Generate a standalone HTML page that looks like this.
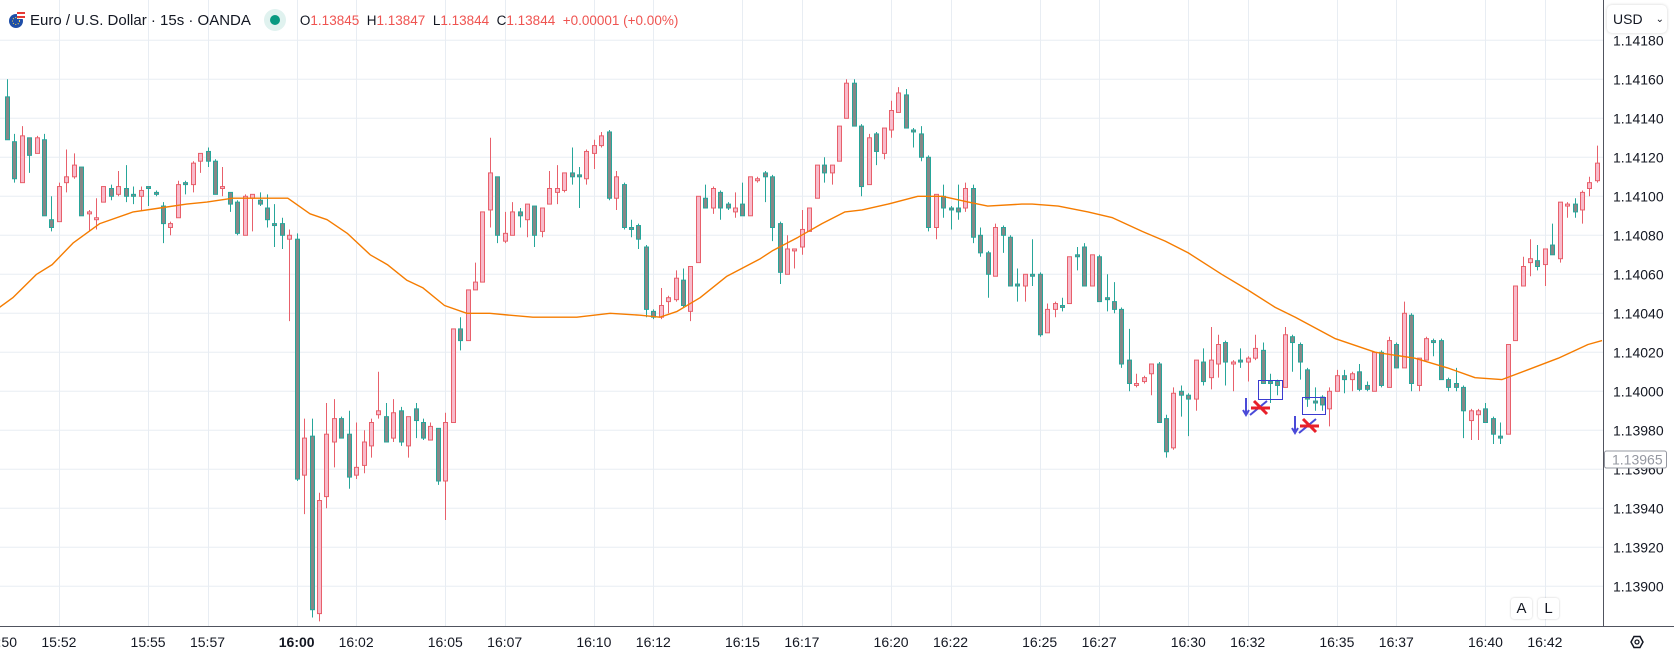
<!DOCTYPE html>
<html><head><meta charset="utf-8"><title>EURUSD 15s</title>
<style>
html,body{margin:0;padding:0;background:#fff;width:1674px;height:658px;overflow:hidden;font-family:"Liberation Sans",sans-serif;}
#wrap{position:relative;width:1674px;height:658px;}
svg{position:absolute;left:0;top:0;}
#hdr{position:absolute;left:8px;top:8px;height:24px;display:flex;align-items:center;font-size:15px;color:#131722;white-space:nowrap;}
#hdr .vals{font-size:13.5px;color:#131722;margin-left:14px;}
#hdr .vals span.r{color:#ef5350;}
#usd{position:absolute;left:1607px;top:5px;width:60px;height:28px;border-radius:5px;background:#fff;box-shadow:0 0 3px rgba(0,0,0,0.18);font-size:14px;color:#131722;display:flex;align-items:center;padding-left:6px;box-sizing:border-box;}
.btn{position:absolute;top:598px;width:21px;height:21px;border-radius:3px;box-shadow:0 0 2px rgba(0,0,0,0.2);background:#fff;font-size:15px;text-align:center;line-height:21px;color:#131722;}
</style></head><body>
<div id="wrap">
<svg id="chart" width="1674" height="658"></svg>
<div id="hdr">
 <svg width="18" height="18" style="position:static"><circle cx="8" cy="10" r="7" fill="#1e4ea8"/><rect x="9" y="1" width="8" height="7" fill="#fff"/><rect x="9" y="1" width="8" height="2" fill="#e53935"/><rect x="9" y="5" width="8" height="2" fill="#e53935"/><circle cx="8" cy="10" r="3.5" fill="none" stroke="#f9d648" stroke-dasharray="1 1.6"/></svg>
 <span style="margin-left:4px">Euro / U.S. Dollar · 15s · OANDA</span>
 <span style="display:inline-block;width:22px;height:22px;border-radius:11px;background:#e0f2ef;margin-left:13px;position:relative"><span style="position:absolute;left:6px;top:6px;width:10px;height:10px;border-radius:5px;background:#089981"></span></span>
 <span class="vals">O<span class="r">1.13845</span>&nbsp; H<span class="r">1.13847</span>&nbsp; L<span class="r">1.13844</span>&nbsp; C<span class="r">1.13844</span>&nbsp; <span class="r">+0.00001 (+0.00%)</span></span>
</div>
<div id="usd">USD<span style="margin-left:13px;font-size:10px">&#8964;</span></div>
<div class="btn" style="left:1511px">A</div>
<div class="btn" style="left:1538px">L</div>
</div>
<script>
const opens=[1.14151,1.14128,1.14107,1.14130,1.14122,1.14129,1.14088,1.14087,1.14107,1.14110,
1.14115,1.14091,1.14088,1.14097,1.14104,1.14101,1.14104,1.14101,1.14100,1.14105,
1.14102,1.14095,1.14084,1.14089,1.14107,1.14106,1.14118,1.14123,1.14118,1.14104,
1.14102,1.14097,1.14080,1.14099,1.14098,1.14094,1.14086,1.14086,1.14078,1.14078,
1.13957,1.13977,1.13886,1.13946,1.13974,1.13986,1.13978,1.13957,1.13962,1.13972,
1.13988,1.13987,1.13976,1.13990,1.13972,1.13991,1.13984,1.13975,1.13981,1.13954,
1.13984,1.14032,1.14026,1.14052,1.14056,1.14093,1.14110,1.14077,1.14080,1.14092,
1.14088,1.14095,1.14082,1.14096,1.14102,1.14103,1.14112,1.14111,1.14109,1.14122,
1.14126,1.14133,1.14099,1.14106,1.14084,1.14085,1.14074,1.14041,1.14038,1.14046,
1.14047,1.14057,1.14041,1.14066,1.14099,1.14094,1.14102,1.14096,1.14092,1.14096,
1.14090,1.14108,1.14112,1.14110,1.14086,1.14060,1.14072,1.14074,1.14082,1.14099,
1.14116,1.14112,1.14118,1.14140,1.14158,1.14136,1.14106,1.14132,1.14122,1.14134,
1.14143,1.14152,1.14134,1.14132,1.14120,1.14084,1.14100,1.14094,1.14094,1.14094,
1.14104,1.14080,1.14071,1.14059,1.14084,1.14079,1.14055,1.14054,1.14060,1.14060,
1.14030,1.14042,1.14044,1.14045,1.14070,1.14074,1.14054,1.14069,1.14048,1.14046,
1.14042,1.14016,1.14003,1.14005,1.14009,1.14014,1.13986,1.13971,1.14000,1.13998,
1.13996,1.14015,1.14007,1.14014,1.14025,1.14014,1.14016,1.14015,1.14017,1.14021,
1.14005,1.14005,1.14002,1.14028,1.14024,1.14011,1.13995,1.13997,1.13991,1.14000,
1.14008,1.14006,1.14010,1.14003,1.14000,1.14020,1.14002,1.14024,1.14012,1.14039,
1.14003,1.14016,1.14026,1.14026,1.14006,1.14004,1.14002,1.13985,1.13988,1.13991,
1.13986,1.13977,1.13978,1.14026,1.14054,1.14066,1.14067,1.14065,1.14075,1.14068,
1.14095,1.14096,1.14093,1.14104,1.14108];
const highs=[1.14160,1.14132,1.14136,1.14130,1.14131,1.14132,1.14100,1.14107,1.14124,1.14122,
1.14115,1.14093,1.14099,1.14105,1.14106,1.14113,1.14116,1.14105,1.14105,1.14105,
1.14103,1.14097,1.14087,1.14108,1.14108,1.14118,1.14122,1.14125,1.14119,1.14115,
1.14102,1.14098,1.14101,1.14101,1.14102,1.14101,1.14096,1.14089,1.14083,1.14081,
1.13986,1.13986,1.13948,1.13994,1.13996,1.13987,1.13990,1.13984,1.13980,1.13986,
1.14010,1.13994,1.13996,1.13992,1.13987,1.13994,1.13986,1.13984,1.13981,1.13989,
1.14032,1.14038,1.14052,1.14066,1.14092,1.14130,1.14110,1.14092,1.14097,1.14094,
1.14096,1.14095,1.14094,1.14113,1.14116,1.14112,1.14125,1.14115,1.14124,1.14129,
1.14133,1.14134,1.14113,1.14107,1.14088,1.14086,1.14075,1.14042,1.14053,1.14049,
1.14062,1.14063,1.14064,1.14100,1.14106,1.14105,1.14103,1.14097,1.14102,1.14107,
1.14110,1.14110,1.14113,1.14111,1.14087,1.14080,1.14073,1.14093,1.14094,1.14116,
1.14120,1.14116,1.14136,1.14160,1.14160,1.14137,1.14132,1.14133,1.14135,1.14149,
1.14156,1.14155,1.14135,1.14136,1.14121,1.14101,1.14106,1.14095,1.14106,1.14107,
1.14106,1.14084,1.14072,1.14086,1.14085,1.14080,1.14063,1.14060,1.14078,1.14061,
1.14045,1.14046,1.14048,1.14069,1.14074,1.14076,1.14070,1.14070,1.14060,1.14056,
1.14043,1.14032,1.14009,1.14008,1.14014,1.14015,1.13988,1.14002,1.14003,1.13999,
1.14016,1.14022,1.14033,1.14029,1.14026,1.14016,1.14022,1.14018,1.14029,1.14025,
1.14009,1.14006,1.14033,1.14029,1.14025,1.14012,1.14002,1.13998,1.14002,1.14011,
1.14011,1.14010,1.14014,1.14005,1.14020,1.14021,1.14028,1.14025,1.14046,1.14040,
1.14017,1.14028,1.14027,1.14027,1.14007,1.14012,1.14003,1.13991,1.13991,1.13994,
1.13987,1.13984,1.14024,1.14054,1.14069,1.14078,1.14075,1.14073,1.14086,1.14097,
1.14097,1.14099,1.14103,1.14110,1.14126];
const lows=[1.14129,1.14107,1.14107,1.14112,1.14122,1.14090,1.14082,1.14087,1.14102,1.14109,
1.14090,1.14082,1.14083,1.14097,1.14098,1.14100,1.14097,1.14096,1.14093,1.14095,
1.14100,1.14076,1.14080,1.14089,1.14101,1.14102,1.14112,1.14115,1.14101,1.14100,
1.14092,1.14080,1.14080,1.14082,1.14095,1.14084,1.14074,1.14073,1.14036,1.13954,
1.13937,1.13884,1.13882,1.13940,1.13961,1.13976,1.13950,1.13955,1.13958,1.13966,
1.13986,1.13974,1.13974,1.13972,1.13966,1.13976,1.13975,1.13975,1.13952,1.13934,
1.13984,1.14021,1.14026,1.14052,1.14056,1.14084,1.14076,1.14076,1.14080,1.14084,
1.14079,1.14074,1.14079,1.14096,1.14096,1.14102,1.14106,1.14094,1.14106,1.14114,
1.14125,1.14098,1.14093,1.14083,1.14079,1.14073,1.14038,1.14037,1.14037,1.14040,
1.14046,1.14043,1.14036,1.14066,1.14094,1.14091,1.14088,1.14093,1.14089,1.14090,
1.14090,1.14107,1.14097,1.14077,1.14055,1.14060,1.14063,1.14070,1.14082,1.14099,
1.14107,1.14106,1.14118,1.14140,1.14136,1.14100,1.14106,1.14116,1.14119,1.14130,
1.14143,1.14135,1.14125,1.14118,1.14082,1.14078,1.14089,1.14083,1.14088,1.14092,
1.14076,1.14069,1.14048,1.14059,1.14071,1.14054,1.14046,1.14046,1.14054,1.14028,
1.14030,1.14038,1.14041,1.14045,1.14062,1.14054,1.14054,1.14046,1.14041,1.14040,
1.14012,1.14000,1.14002,1.14004,1.13998,1.13984,1.13966,1.13970,1.13987,1.13977,
1.13990,1.14003,1.14001,1.14007,1.14003,1.14000,1.14012,1.14005,1.14016,1.14004,
1.13994,1.13998,1.14002,1.14010,1.14006,1.13992,1.13990,1.13990,1.13982,1.14000,
1.13999,1.14000,1.14000,1.14000,1.14000,1.14002,1.14002,1.14012,1.14012,1.14000,
1.14000,1.14016,1.14018,1.14006,1.14000,1.14000,1.13976,1.13975,1.13975,1.13984,
1.13973,1.13973,1.13978,1.14026,1.14054,1.14059,1.14062,1.14054,1.14070,1.14066,
1.14089,1.14089,1.14086,1.14100,1.14107];
const closes=[1.14129,1.14109,1.14131,1.14121,1.14130,1.14090,1.14084,1.14105,1.14110,1.14116,
1.14090,1.14092,1.14089,1.14105,1.14100,1.14105,1.14100,1.14100,1.14103,1.14104,
1.14101,1.14086,1.14086,1.14106,1.14106,1.14117,1.14122,1.14118,1.14101,1.14105,
1.14096,1.14081,1.14100,1.14101,1.14096,1.14088,1.14085,1.14080,1.14080,1.13955,
1.13976,1.13888,1.13944,1.13978,1.13986,1.13976,1.13956,1.13961,1.13974,1.13984,
1.13990,1.13974,1.13989,1.13974,1.13987,1.13985,1.13976,1.13982,1.13954,1.13984,
1.14032,1.14026,1.14052,1.14056,1.14092,1.14112,1.14080,1.14081,1.14092,1.14090,
1.14096,1.14080,1.14094,1.14104,1.14104,1.14112,1.14110,1.14110,1.14123,1.14126,
1.14131,1.14099,1.14110,1.14084,1.14083,1.14078,1.14042,1.14038,1.14044,1.14048,
1.14058,1.14044,1.14064,1.14100,1.14094,1.14104,1.14094,1.14094,1.14094,1.14090,
1.14110,1.14109,1.14110,1.14084,1.14061,1.14073,1.14073,1.14083,1.14094,1.14116,
1.14112,1.14116,1.14136,1.14158,1.14136,1.14105,1.14130,1.14123,1.14135,1.14144,
1.14153,1.14135,1.14133,1.14120,1.14084,1.14101,1.14094,1.14093,1.14092,1.14104,
1.14079,1.14071,1.14060,1.14084,1.14080,1.14054,1.14054,1.14060,1.14059,1.14029,
1.14042,1.14045,1.14043,1.14069,1.14069,1.14054,1.14070,1.14046,1.14047,1.14042,
1.14014,1.14004,1.14004,1.14007,1.14014,1.13984,1.13969,1.13999,1.13998,1.13996,
1.14016,1.14005,1.14016,1.14024,1.14015,1.14015,1.14015,1.14017,1.14022,1.14004,
1.14004,1.14003,1.14029,1.14025,1.14015,1.13996,1.13994,1.13993,1.14000,1.14008,
1.14006,1.14009,1.14001,1.14001,1.14020,1.14003,1.14026,1.14012,1.14040,1.14004,
1.14017,1.14027,1.14025,1.14006,1.14002,1.14002,1.13990,1.13990,1.13990,1.13984,
1.13978,1.13976,1.14024,1.14054,1.14064,1.14068,1.14064,1.14073,1.14070,1.14097,
1.14096,1.14092,1.14102,1.14107,1.14117];
const emaIdx=[-1,0.8,4,6.1,8.9,12.5,17,20.6,24.2,26.9,30.4,34.1,37.8,40.8,43.1,45.8,48.9,51.2,53.8,56,58.9,61.9,65,67.7,70.8,76.7,81.2,85.2,87.9,90.2,93.3,96.9,101.4,103,106.5,109.7,112.8,115.1,118.6,122.6,125.9,129.4,132,136.6,138,141.5,145.5,148.8,152.8,155.9,159,163.5,167,170.7,173.4,178.8,184.2,189.5,193.9,197.6,201.2,204.7,208.8,212.8,214.7];
const emaVals=[1.14043,1.14048,1.14060,1.14065,1.14076,1.14086,1.14092,1.14094,1.14096,1.14097,1.14099,1.14099,1.14099,1.14091,1.14088,1.14081,1.14070,1.14065,1.14057,1.14053,1.14044,1.14040,1.14040,1.14039,1.14038,1.14038,1.14040,1.14039,1.14038,1.14041,1.14048,1.14059,1.14068,1.14072,1.14079,1.14086,1.14092,1.14093,1.14096,1.14100,1.14100,1.14097,1.14095,1.14096,1.14096,1.14095,1.14092,1.14089,1.14082,1.14077,1.14071,1.14060,1.14052,1.14043,1.14038,1.14027,1.14020,1.14017,1.14012,1.14007,1.14006,1.14011,1.14017,1.14024,1.14026];
const priceTicks=[1.14180,1.14160,1.14140,1.14120,1.14100,1.14080,1.14060,1.14040,1.14020,1.14000,1.13980,1.13960,1.13940,1.13920,1.13900];
const timeLabels=["15:50","15:52","15:55","15:57","16:00","16:02","16:05","16:07","16:10","16:12","16:15","16:17","16:20","16:22","16:25","16:27","16:30","16:32","16:35","16:37","16:40","16:42"];
const timeIdx=[-1,7,19,27,39,47,59,67,79,87,99,107,119,127,139,147,159,167,179,187,199,207];
const lastPrice=1.13965;

const NS="http://www.w3.org/2000/svg";
const svg=document.getElementById('chart');
const PW=1603, PH=626;
function xS(i){return 6.9+7.43*i;}
function yS(p){return 79.3+(1.14160-p)*195000;}
function mk(tag,attrs,parent){const e=document.createElementNS(NS,tag);for(const k in attrs)e.setAttribute(k,attrs[k]);(parent||svg).appendChild(e);return e;}

const grid=mk('g',{});


priceTicks.forEach(p=>{const l=mk('line',{x1:0,x2:PW,y1:yS(p),y2:yS(p),stroke:'#e8edf3','stroke-width':1},grid);

});
timeIdx.forEach(i=>{const x=Math.round(xS(i))+0.5;const l=mk('line',{x1:x,x2:x,y1:0,y2:PH,stroke:'#e8edf3','stroke-width':1},grid);

});

const cg=mk('g',{});


for(let i=0;i<opens.length;i++){
 const up=closes[i]>opens[i];
 const col=up?'#e8606b':'#26a69a', fill=up?'#f8bbcb':'#878787';
 const x=Math.round(xS(i));
 const g=mk('g',{},cg);
 
 
 mk('line',{x1:x+0.5,x2:x+0.5,y1:yS(highs[i]),y2:yS(lows[i]),stroke:col,'stroke-width':1},g);
 const top=yS(Math.max(opens[i],closes[i])), bot=yS(Math.min(opens[i],closes[i]));
 mk('rect',{x:x-1.5,y:top,width:4,height:Math.max(bot-top,1),fill:fill,stroke:col,'stroke-width':1},g);
}
let d='';
for(let k=0;k<emaIdx.length;k++){d+=(k?'L':'M')+xS(emaIdx[k]).toFixed(1)+' '+yS(emaVals[k]).toFixed(1)+' ';}
const ema=mk('path',{d:d,fill:'none',stroke:'#f57c00','stroke-width':1.4,'stroke-linejoin':'round'});



// trade markers
function marker(bx,by,bw,bh,ax,ay){
 const g=mk('g',{});
 
 
 mk('rect',{x:bx,y:by,width:bw,height:bh,fill:'none',stroke:'#3b3bd0','stroke-width':1},g);
 mk('path',{d:`M${ax} ${ay} L${ax} ${ay+16} M${ax-3} ${ay+12} L${ax} ${ay+17} L${ax+3} ${ay+12} M${ax+4} ${ay+17} L${ax+21} ${ay+3}`,fill:'none',stroke:'#4a4ad8','stroke-width':2},g);
 mk('path',{d:`M${ax+5} ${ay+10} L${ax+24} ${ay+10} M${ax+8} ${ay+3} L${ax+21} ${ay+16}`,fill:'none',stroke:'#e8202a','stroke-width':3},g);
}
marker(1258.5,380.5,24,19,1246,398);
marker(1302.5,397.5,23,17,1295,416);

// axes
const ax=mk('g',{});


mk('rect',{x:PW,y:0,width:1674-PW,height:658,fill:'#fff'},ax);
mk('line',{x1:PW+0.5,x2:PW+0.5,y1:0,y2:658,stroke:'#50535e','stroke-width':1},ax);
priceTicks.forEach(p=>{const t=mk('text',{x:1613,y:yS(p)+5,'font-size':14,fill:'#131722','font-family':'Liberation Sans, sans-serif'},ax);t.textContent=p.toFixed(5);

});
const lp=mk('g',{},ax);


mk('rect',{x:1604.5,y:yS(lastPrice)-8.5,width:62,height:17,rx:2,fill:'#fff',stroke:'#9598a1','stroke-width':1},lp);
const lpt=mk('text',{x:1612,y:yS(lastPrice)+5,'font-size':14,fill:'#9598a1','font-family':'Liberation Sans, sans-serif'},lp);lpt.textContent=lastPrice.toFixed(5);

const tx=mk('g',{});


mk('rect',{x:0,y:PH,width:1674,height:658-PH,fill:'#fff'},tx);
mk('line',{x1:0,x2:1674,y1:PH+0.5,y2:PH+0.5,stroke:'#50535e','stroke-width':1},tx);
timeIdx.forEach((i,k)=>{const t=mk('text',{x:xS(i),y:647,'font-size':14,fill:'#131722','text-anchor':'middle','font-weight':timeLabels[k]==='16:00'?'bold':'normal','font-family':'Liberation Sans, sans-serif'},tx);t.textContent=timeLabels[k];

});
mk('rect',{x:PW,y:PH+1,width:1674-PW,height:658-PH,fill:'#fff'},tx);
const gear=mk('path',{d:'M1631 642 L1634 636.5 L1640 636.5 L1643 642 L1640 647.5 L1634 647.5 Z',fill:'none',stroke:'#131722','stroke-width':1.5});


mk('circle',{cx:1637,cy:642,r:2,fill:'none',stroke:'#131722','stroke-width':1.3});
</script>
</body></html>
